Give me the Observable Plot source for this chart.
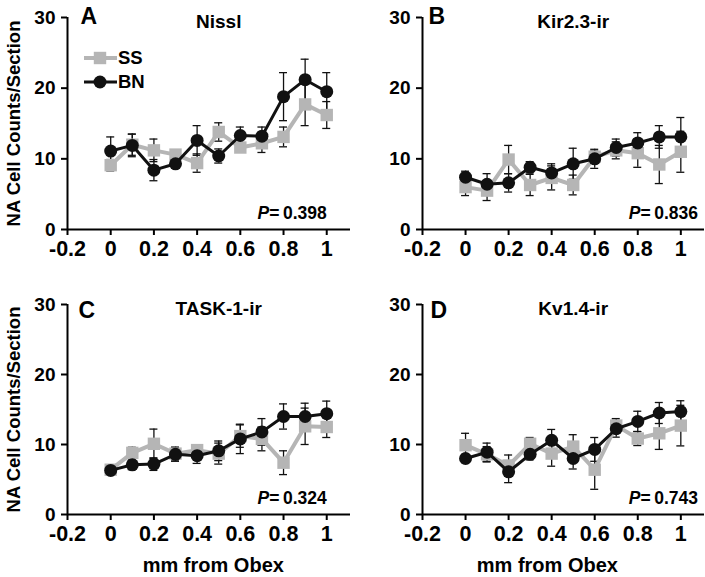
<!DOCTYPE html>
<html><head><meta charset="utf-8">
<script src="https://cdn.jsdelivr.net/npm/d3@7"></script>
<script src="https://cdn.jsdelivr.net/npm/@observablehq/plot@0.6"></script>
<style>
html,body{margin:0;padding:0;background:#fff;}
#fig{position:relative;width:705px;height:577px;font-family:"Liberation Sans",Arial,sans-serif;overflow:hidden;}
.panel{position:absolute;}
.panel svg{overflow:visible;}
</style></head><body><div id="fig"></div>
<script>
// ---- data ----
const xPos = [0, 0.1, 0.2, 0.3, 0.4, 0.5, 0.6, 0.7, 0.8, 0.9, 1.0];
const xTicks = [-0.2, 0, 0.2, 0.4, 0.6, 0.8, 1];
const yTicks = [0, 10, 20, 30];
const seriesNames = ["SS", "BN"];
const panelLetters = ["A", "B", "C", "D"];
const panelTitles = ["Nissl", "Kir2.3-ir", "TASK-1-ir", "Kv1.4-ir"];
const pValues = ["0.398", "0.836", "0.324", "0.743"];
const yLabel = "NA Cell Counts/Section";
const xLabel = "mm from Obex";

const ssNissl    = [9.1, 12.0, 11.2, 10.6, 9.4, 13.8, 11.6, 12.2, 13.1, 17.7, 16.2];
const ssNisslErr = [0.8, 1.5, 1.6, 0.5, 1.3, 1.3, 0.6, 1.3, 1.4, 3.0, 1.9];
const bnNissl    = [11.1, 11.9, 8.4, 9.3, 12.6, 10.4, 13.3, 13.2, 18.8, 21.2, 19.5];
const bnNisslErr = [2.0, 1.6, 1.5, 0.6, 2.1, 1.0, 1.2, 1.3, 3.4, 2.9, 2.7];

const ssKir    = [6.0, 5.5, 9.9, 6.3, 7.3, 6.3, 10.3, 11.2, 10.8, 9.2, 11.0];
const ssKirErr = [1.2, 1.4, 2.0, 1.5, 1.7, 1.4, 0.8, 1.2, 2.0, 2.7, 2.9];
const bnKir    = [7.4, 6.4, 6.6, 8.8, 8.0, 9.3, 10.0, 11.6, 12.25, 13.1, 13.1];
const bnKirErr = [0.85, 1.5, 1.3, 0.8, 1.3, 2.2, 1.35, 1.2, 1.45, 1.6, 2.75];

const ssTask    = [6.4, 8.8, 10.1, 8.7, 9.2, 8.7, 11.2, 10.8, 7.4, 12.6, 12.5];
const ssTaskErr = [0.6, 0.8, 2.1, 0.9, 0.6, 1.5, 1.6, 1.7, 1.7, 2.6, 1.5];
const bnTask    = [6.3, 7.1, 7.2, 8.6, 8.4, 9.1, 10.8, 11.8, 14.0, 14.0, 14.4];
const bnTaskErr = [0.6, 0.7, 0.9, 1.0, 1.1, 1.4, 2.1, 1.9, 1.8, 1.9, 1.8];

const ssKv    = [9.9, 8.6, 7.0, 10.1, 8.7, 9.7, 6.4, 12.7, 10.85, 11.6, 12.7];
const ssKvErr = [1.7, 1.1, 1.5, 0.9, 1.8, 1.7, 2.8, 1.0, 1.0, 2.3, 2.9];
const bnKv    = [8.0, 8.9, 6.1, 8.6, 10.6, 8.0, 9.3, 12.25, 13.3, 14.5, 14.7];
const bnKvErr = [0.6, 1.3, 1.55, 0.8, 1.55, 1.5, 1.7, 1.2, 1.45, 1.5, 1.55];

// ---- style ----
const GRAY = "#b5b5b5";
const BLACK = "#111111";
const FONT = "'Liberation Sans', Arial, Helvetica, sans-serif";

function rowsOf(name, vals, errs) {
  return xPos.map((x, j) => ({group: name, x, y: vals[j], e: errs[j]}));
}

function makePanel(i, ss, ssErr, bn, bnErr, lay) {
  const ssRows = rowsOf(seriesNames[0], ss, ssErr);
  const bnRows = rowsOf(seriesNames[1], bn, bnErr);
  const all = ssRows.concat(bnRows);
  const marks = [
    Plot.axisY({ticks: yTicks, tickSize: 6, tickPadding: 6, strokeWidth: 2, fontSize: 19, label: null}),
    Plot.axisX({ticks: xTicks, tickSize: 6, tickPadding: 5, strokeWidth: 2, fontSize: 21.5, tickFormat: d => String(d), label: null}),
    Plot.ruleX([xTicks[0]], {strokeWidth: 2, stroke: "#000"}),
    Plot.ruleY([0], {strokeWidth: 2, stroke: "#000"}),
    Plot.ruleX(all, {x: "x", y1: d => d.y - d.e, y2: d => d.y + d.e, stroke: BLACK, strokeWidth: 1.3}),
    Plot.ruleY(all, {x1: "x", x2: "x", y: d => d.y + d.e, insetLeft: -4, insetRight: -4, stroke: BLACK, strokeWidth: 1.3}),
    Plot.ruleY(all, {x1: "x", x2: "x", y: d => d.y - d.e, insetLeft: -4, insetRight: -4, stroke: BLACK, strokeWidth: 1.3}),
    Plot.line(ssRows, {x: "x", y: "y", stroke: GRAY, strokeWidth: 4}),
    Plot.dot(ssRows, {x: "x", y: "y", symbol: "square", r: 7, fill: GRAY, stroke: "none"}),
    Plot.line(bnRows, {x: "x", y: "y", stroke: BLACK, strokeWidth: 3}),
    Plot.dot(bnRows, {x: "x", y: "y", symbol: "circle", r: 6.5, fill: BLACK, stroke: "none"}),
    Plot.text([panelTitles[i]], {x: d => 0.5, y: d => 30, dy: 4, text: d => d, fontSize: 19, fontWeight: "bold", lineAnchor: "middle"}),
    Plot.text([panelLetters[i]], {x: d => xTicks[0], y: d => 30, dx: lay.letterDx, dy: lay.letterDy, text: d => d, fontSize: 23, fontWeight: "bold", textAnchor: "start", lineAnchor: "middle"}),
    Plot.text(["P=\u2009" + pValues[i]], {x: d => lay.pX, y: d => 0, dy: -16, text: d => d, fontSize: 17.5, fontWeight: "bold", textAnchor: "end", lineAnchor: "middle"})
  ];
  if (lay.left) {
    marks.push(Plot.text([yLabel], {frameAnchor: "left", rotate: -90, dx: -53, text: d => d, fontSize: 18.5, fontWeight: "bold", textAnchor: "middle", lineAnchor: "middle"}));
  }
  if (lay.bottom) {
    marks.push(Plot.text([xLabel], {x: d => lay.xLabelX, frameAnchor: "bottom", dy: 51, text: d => d, fontSize: 20, fontWeight: "bold", textAnchor: "middle", lineAnchor: "middle"}));
  }
  const svg = Plot.plot({
    width: lay.width, height: lay.height,
    marginLeft: lay.ml, marginRight: lay.mr, marginTop: lay.mt, marginBottom: lay.mb,
    style: {fontFamily: FONT, fontWeight: "bold", color: "#000", background: "transparent", overflow: "visible"},
    x: {domain: [xTicks[0], 1.11]},
    y: {domain: [yTicks[0], yTicks[yTicks.length - 1]]},
    marks
  });
  d3.select(svg).selectAll("text").filter(function() { return this.textContent.startsWith("P="); })
    .each(function() {
      const t = d3.select(this);
      const rest = this.textContent.slice(1);
      t.text(null);
      t.append("tspan").attr("font-style", "italic").text("P");
      t.append("tspan").text(rest);
    });
  const div = document.createElement("div");
  div.className = "panel";
  div.style.left = lay.left0 + "px";
  div.style.top = lay.top0 + "px";
  div.appendChild(svg);
  document.getElementById("fig").appendChild(div);
  return div;
}

const topLay = {height: 260, mt: 17, mb: 31};
const botLay = {height: 289, mt: 16, mb: 63};

const dA = makePanel(0, ssNissl, ssNisslErr, bnNissl, bnNisslErr,
  {...topLay, width: 352, ml: 67, mr: 2, left0: 0, top0: 0, left: true, bottom: false, letterDx: 13, letterDy: -1, pX: 1.0});
makePanel(1, ssKir, ssKirErr, bnKir, bnKirErr,
  {...topLay, width: 353, ml: 70, mr: 1, left0: 352, top0: 0, left: false, bottom: false, letterDx: 6, letterDy: -1, pX: 1.08});
makePanel(2, ssTask, ssTaskErr, bnTask, bnTaskErr,
  {...botLay, width: 352, ml: 67, mr: 2, left0: 0, top0: 288, left: true, bottom: true, letterDx: 11, letterDy: 6, pX: 1.0, xLabelX: 0.475});
makePanel(3, ssKv, ssKvErr, bnKv, bnKvErr,
  {...botLay, width: 353, ml: 70, mr: 1, left0: 352, top0: 288, left: false, bottom: true, letterDx: 8, letterDy: 6, pX: 1.08, xLabelX: 0.38});

// legend (panel A)
const leg = d3.select(dA).append("svg")
  .attr("width", 90).attr("height", 50)
  .style("position", "absolute").style("left", "80px").style("top", "45px")
  .style("font-family", FONT).style("font-weight", "bold");
const legItems = leg.selectAll("g").data(seriesNames).join("g")
  .attr("transform", (d, k) => `translate(0,${13 + k * 24})`);
legItems.append("line").attr("x1", 4).attr("x2", 37).attr("y1", 0).attr("y2", 0)
  .attr("stroke", d => d === "SS" ? GRAY : BLACK).attr("stroke-width", d => d === "SS" ? 4 : 3);
legItems.filter(d => d === "SS").append("rect").attr("x", 20 - 6.2).attr("y", -6.2).attr("width", 12.4).attr("height", 12.4).attr("fill", GRAY);
legItems.filter(d => d === "BN").append("circle").attr("cx", 20).attr("cy", 0).attr("r", 6.5).attr("fill", BLACK);
legItems.append("text").attr("x", 38).attr("y", 0).attr("dy", "0.35em").attr("font-size", 18.5).attr("fill", "#000").text(d => d);
</script></body></html>
